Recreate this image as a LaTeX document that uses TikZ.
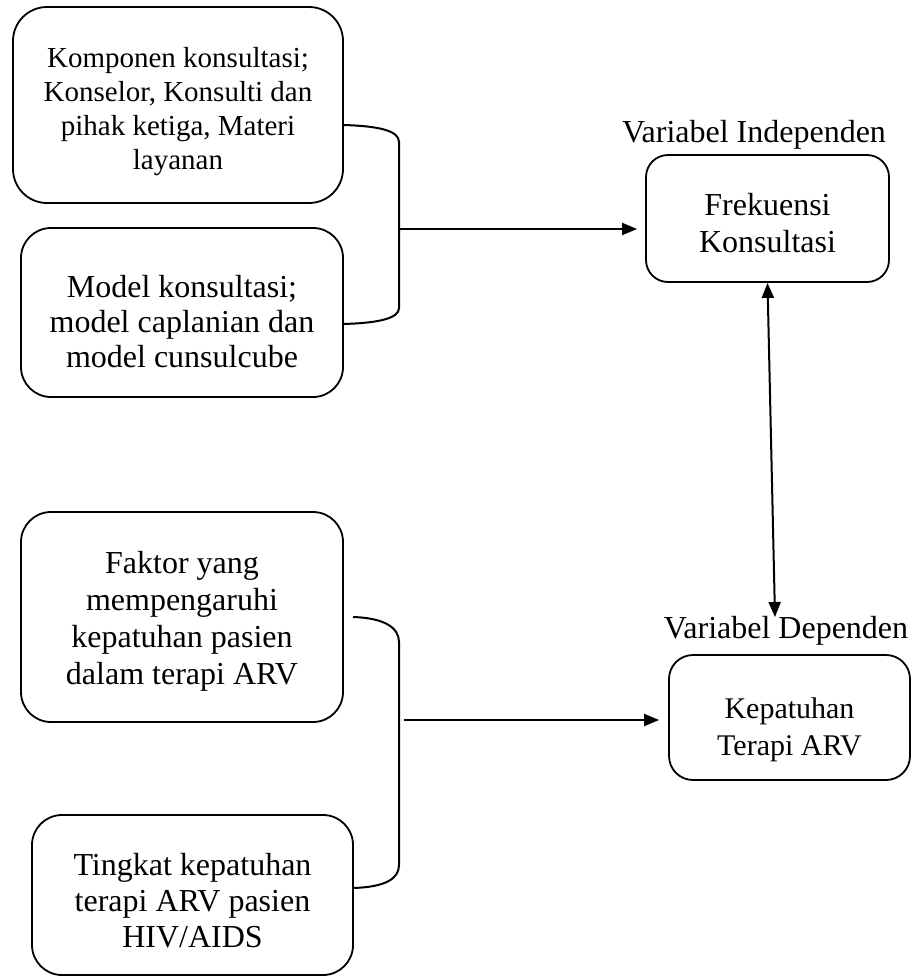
\documentclass[tikz,border=0pt]{standalone}
\usepackage{fontspec}
\setmainfont{Liberation Serif}
\usetikzlibrary{arrows.meta}
\newcommand{\ldep}{\rule[-10pt]{0pt}{10pt}}
\begin{document}
\begin{tikzpicture}[x=1pt,y=-1pt,
  box/.style={draw,line width=1.8pt,align=center,inner sep=0pt,font=\fontsize{32}{37}\selectfont},
  lbl/.style={font=\fontsize{32}{37}\selectfont,inner sep=0pt},
  conn/.style={line width=2pt},
  tip/.style={-{Triangle[length=15pt,width=12pt]}},
  dtip/.style={{Triangle[length=15pt,width=12pt]}-{Triangle[length=15pt,width=12pt]}}]
\useasboundingbox (0,0) rectangle (911,980);

\node[box,font=\fontsize{29}{34}\selectfont,rounded corners=34pt,minimum width=330pt,minimum height=196pt] (k1) at (178,105)
  {\rule{0pt}{36pt}Komponen konsultasi;\\Konselor, Konsulti dan\\pihak ketiga, Materi\\layanan\ldep};
\node[box,font=\fontsize{32}{35}\selectfont,rounded corners=30pt,minimum width=322pt,minimum height=169pt] (k2) at (182,312.5)
  {\rule{0pt}{49pt}Model konsultasi;\\model caplanian dan\\model cunsulcube\ldep};
\node[box,rounded corners=30pt,minimum width=322pt,minimum height=210pt] (k3) at (182,617)
  {\rule{0pt}{33pt}Faktor yang\\mempengaruhi\\kepatuhan pasien\\dalam terapi ARV\ldep};
\node[box,font=\fontsize{32}{36}\selectfont,rounded corners=30pt,minimum width=321pt,minimum height=160pt] (k4) at (192.5,895)
  {\rule{0pt}{42pt}Tingkat kepatuhan\\terapi ARV pasien\\HIV/AIDS\ldep};

\node[box,rounded corners=22pt,minimum width=243pt,minimum height=127pt] (frek) at (767.5,218.5)
  {\rule{0pt}{40pt}Frekuensi\\Konsultasi\ldep};
\node[box,font=\fontsize{30}{37}\selectfont,rounded corners=24pt,minimum width=241pt,minimum height=125pt] (kep) at (789.5,717.5)
  {\rule{0pt}{48pt}Kepatuhan\\Terapi ARV\ldep};

\node[lbl,anchor=base] (vi) at (754,142) {Variabel Independen};
\node[lbl,anchor=base] (vd) at (786,638) {Variabel Dependen};

% brace 1
\draw[conn] (343,125) .. controls (380,126) and (399,131) .. (399,142)
  -- (399,308) .. controls (399,318) and (380,323) .. (343,324);
\coordinate (b1) at (399,229);
% brace 2
\draw[conn] (353,617) .. controls (385,618) and (399,628) .. (399,642)
  -- (399,865) .. controls (399,879) and (385,887) .. (353,888);
\coordinate (b2) at (404,720);

\draw[conn,tip,shorten >=8pt] (b1) -- (b1 -| frek.west);
\draw[conn,tip,shorten >=9pt] (b2) -- (b2 -| kep.west);
\coordinate (vdtop) at (775,617);
\draw[conn,dtip] (frek.south) -- (vdtop);
\end{tikzpicture}
\end{document}
